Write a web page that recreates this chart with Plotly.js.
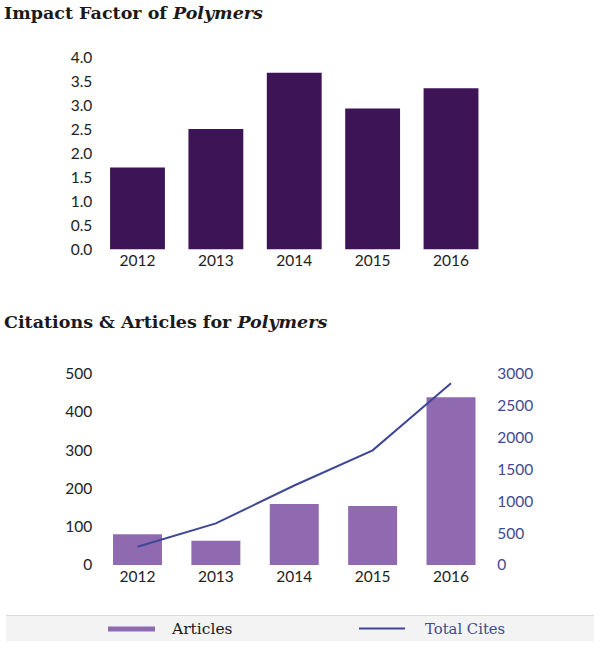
<!DOCTYPE html>
<html>
<head>
<meta charset="utf-8">
<script src="https://cdn.plot.ly/plotly-3.0.1.min.js"></script>
<style>
  html, body { margin: 0; padding: 0; background: #ffffff; }
  #chart { width: 600px; height: 648px; }
</style>
</head>
<body>
<div id="chart"></div>
<script>
// ---- Data ----
const years = ['2012', '2013', '2014', '2015', '2016'];
const impactFactor = [1.71, 2.51, 3.68, 2.94, 3.36];
const articles = [80, 63, 159, 154, 438];
const totalCites = [286, 652, 1245, 1797, 2849];

const title1 = '<b>Impact Factor of <i>Polymers</i></b>';
const title2 = '<b>Citations &amp; Articles for <i>Polymers</i></b>';
const legendArticles = 'Articles';
const legendCites = 'Total Cites';

// ---- Styles ----
const W = 600, H = 648;
const px = v => v / W;
const py = v => 1 - v / H;

const darkPurple = '#3d1557';
const lightPurple = '#906ab0';
const lineBlue = '#3e4795';
const tickFont = { family: 'Lato, "Open Sans", sans-serif', size: 15.5, color: '#222222' };
const titleFont = { family: '"DejaVu Serif", serif', size: 17.5, color: '#1a1a1a' };
const legendFont = { family: '"DejaVu Serif", serif', size: 15.5, color: '#1a1a1a' };

const xDomain = [px(98.3), px(490.2)];

const traces = [
  {
    type: 'bar', x: years, y: impactFactor, xaxis: 'x', yaxis: 'y',
    marker: { color: darkPurple }, width: 0.7, name: 'Impact Factor',
    showlegend: false
  },
  {
    type: 'bar', x: years, y: articles, xaxis: 'x2', yaxis: 'y2',
    marker: { color: lightPurple }, width: 0.625, name: legendArticles,
    showlegend: false
  },
  {
    type: 'scatter', mode: 'lines', x: years, y: totalCites, xaxis: 'x2', yaxis: 'y3',
    line: { color: lineBlue, width: 2 }, name: legendCites,
    showlegend: false
  }
];

const axisCommon = {
  showgrid: false, zeroline: false, showline: false, ticks: '',
  tickfont: tickFont, fixedrange: true
};

const layout = {
  width: W, height: H,
  margin: { l: 0, r: 0, t: 0, b: 0 },
  paper_bgcolor: '#ffffff', plot_bgcolor: 'rgba(0,0,0,0)',
  showlegend: false,
  xaxis: Object.assign({}, axisCommon, { domain: xDomain, anchor: 'y', type: 'category' }),
  yaxis: Object.assign({}, axisCommon, {
    domain: [py(249.5), py(57.5)], anchor: 'x', range: [0, 4], dtick: 0.5, tick0: 0,
    tickformat: '.1f', ticklabelstandoff: 5
  }),
  xaxis2: Object.assign({}, axisCommon, { domain: xDomain, anchor: 'y2', type: 'category' }),
  yaxis2: Object.assign({}, axisCommon, {
    domain: [py(565), py(373.5)], anchor: 'x2', range: [0, 500], dtick: 100, tick0: 0,
    ticklabelstandoff: 5
  }),
  yaxis3: Object.assign({}, axisCommon, {
    overlaying: 'y2', side: 'right', anchor: 'x2', range: [0, 3000], dtick: 500, tick0: 0,
    tickfont: Object.assign({}, tickFont, { color: '#3f4a8f' }), ticklabelstandoff: 6
  }),
  shapes: [
    { type: 'rect', xref: 'paper', yref: 'paper', x0: px(6), x1: px(594), y0: py(641), y1: py(615),
      fillcolor: '#f3f3f3', line: { width: 0 }, layer: 'below' },
    { type: 'line', xref: 'paper', yref: 'paper', x0: px(6), x1: px(594), y0: py(615.5), y1: py(615.5),
      line: { color: '#d9d9d9', width: 1 } },
    { type: 'rect', xref: 'paper', yref: 'paper', x0: px(108), x1: px(155), y0: py(631.5), y1: py(626.5),
      fillcolor: lightPurple, line: { width: 0 } },
    { type: 'line', xref: 'paper', yref: 'paper', x0: px(359), x1: px(405), y0: py(628.5), y1: py(628.5),
      line: { color: lineBlue, width: 2 } }
  ],
  annotations: [
    { text: title1, xref: 'paper', yref: 'paper', x: px(2), y: py(13), xanchor: 'left', yanchor: 'middle',
      showarrow: false, font: titleFont },
    { text: title2, xref: 'paper', yref: 'paper', x: px(2), y: py(322), xanchor: 'left', yanchor: 'middle',
      showarrow: false, font: titleFont },
    { text: legendArticles, xref: 'paper', yref: 'paper', x: px(169), y: py(628.5), xanchor: 'left', yanchor: 'middle',
      showarrow: false, font: legendFont },
    { text: legendCites, xref: 'paper', yref: 'paper', x: px(423), y: py(628.5), xanchor: 'left', yanchor: 'middle',
      showarrow: false, font: Object.assign({}, legendFont, { size: 14.8, color: '#3f4a8f' }) }
  ]
};

Plotly.newPlot('chart', traces, layout, { displayModeBar: false, staticPlot: true });
</script>
</body>
</html>
